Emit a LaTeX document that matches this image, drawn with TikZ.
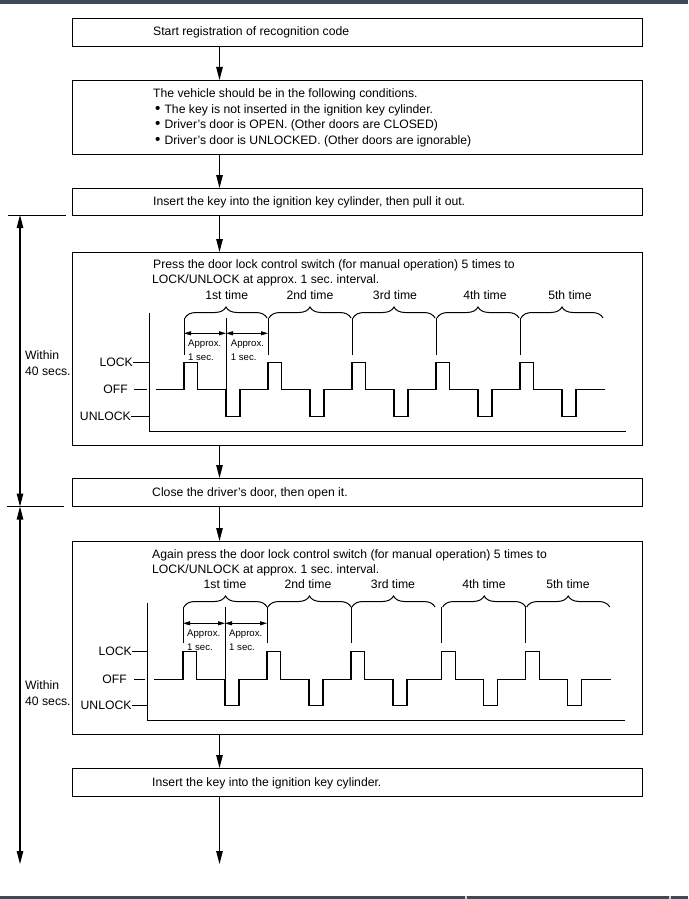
\documentclass[tikz,border=0pt]{standalone}
\usepackage{fontspec}
\setmainfont{Liberation Sans}
\usetikzlibrary{arrows.meta,decorations.pathreplacing,calc}
\definecolor{barcolor}{RGB}{61,72,88}
\definecolor{gapcolor}{RGB}{205,210,215}
\tikzstyle{stepbox}=[draw,line width=1.1pt,rectangle,inner sep=0pt,anchor=north west,minimum width=570pt]
\tikzstyle{steptext}=[anchor=base west,inner sep=0pt,font=\fontsize{12.2}{15}\selectfont]
\tikzstyle{timelabel}=[anchor=base,inner sep=0pt,font=\fontsize{12.2}{15}\selectfont]
\tikzstyle{level}=[anchor=east,inner sep=0pt,font=\fontsize{12.2}{16}\selectfont]
\tikzstyle{approx}=[anchor=north west,inner sep=0pt,align=left,font=\fontsize{9.6}{14}\selectfont]
\tikzstyle{flow} = [draw,line width=1.1pt,-{Triangle[length=13pt,width=6.5pt]}]
\tikzstyle{span} = [draw,line width=1.1pt,{Triangle[length=13pt,width=6.5pt]}-{Triangle[length=13pt,width=6.5pt]}]
\tikzstyle{dim} = [draw,line width=0.8pt,{Triangle[length=7pt,width=4pt]}-{Triangle[length=7pt,width=4pt]}]
\tikzstyle{wave} = [draw,line width=1.1pt]
\tikzstyle{axis} = [draw,line width=1pt]
\tikzstyle{period} = [draw,line width=1pt,decorate,decoration={brace,amplitude=11pt}]
\newcommand{\conddot}{\scalebox{1.25}{\textbullet}\hspace{4pt}}
\frenchspacing

\begin{document}
\begin{tikzpicture}[x=1pt,y=-1pt]
\useasboundingbox (0,0) rectangle (688,899);

    \fill[barcolor] (0,0) rectangle (688,4);
    \fill[barcolor] (0,896) rectangle (688,899);
    \fill[gapcolor] (465.3,896) rectangle (466.7,899);
    \fill[gapcolor] (669,896) rectangle (670.7,899);

    \foreach \pos/\h/\name in {{(72,18)/28pt/b1},{(72,80)/74pt/b2},{(72,188)/27pt/b3},{(72,252)/193pt/b4},{(72,478)/28pt/b5},{(72,541)/193pt/b6},{(72,768)/28pt/b7}}
        \node[stepbox,minimum height=\h] (\name) at \pos {};

    \node[steptext] (start) at (153,36) {Start registration of recognition code};
    \node[steptext] (cond) at (153,97.5) {The vehicle should be in the following conditions.};
    \node[steptext] (condA) at (155,113) {\conddot The key is not inserted in the ignition key cylinder.};
    \node[steptext] (condB) at (155,128.5) {\conddot Driver’s door is OPEN. (Other doors are CLOSED)};
    \node[steptext] (condC) at (155,144) {\conddot Driver’s door is UNLOCKED. (Other doors are ignorable)};
    \node[steptext] (pullout) at (153,205.5) {Insert the key into the ignition key cylinder, then pull it out.};
    \node[steptext] (pressA) at (153,268) {Press the door lock control switch (for manual operation) 5 times to};
    \node[steptext] (pressB) at (152,283.5) {LOCK/UNLOCK at approx. 1 sec. interval.};
    \node[steptext] (close) at (152,496.5) {Close the driver’s door, then open it.};
    \node[steptext] (againA) at (152,558) {Again press the door lock control switch (for manual operation) 5 times to};
    \node[steptext] (againB) at (152,573) {LOCK/UNLOCK at approx. 1 sec. interval.};
    \node[steptext] (insert) at (152,786.5) {Insert the key into the ignition key cylinder.};

    % Connect boxes with arrows
    \coordinate (flowx) at (219.5,0);
    \foreach \source/ \dest in {b1/b2, b2/b3, b3/b4, b4/b5, b5/b6, b6/b7}
        \path[flow] (\source.south -| flowx) -- (\dest.north -| flowx);
    \coordinate (flowend) at (219.5,864);
    \path[flow] (b7.south -| flowx) -- (flowend);

    % time limits on the left
    \coordinate (limA) at (20,215);
    \coordinate (limB) at (20,506.5);
    \coordinate (limC) at (20,864);
    \coordinate (edgeA) at (66,215);
    \coordinate (edgeB) at (64,506.5);
    \draw[line width=1pt] (8,215) -- (edgeA);
    \draw[line width=1pt] (7,506.5) -- (edgeB);
    \path[span] (limA) -- (limB);
    \path[span] (limB) -- (limC);
    \node[level,anchor=west,align=left] (withinA) at (25,363) {Within\\40 secs.};
    \node[level,anchor=west,align=left] (withinB) at (25,693) {Within\\40 secs.};

    % first timing chart
    \coordinate (axisA) at (149.3,313);
    \draw[axis] (axisA) |- (626,431);
    \node[level] (lockA) at (133,362.3) {LOCK};
    \node[level] (offA) at (128,389.3) {OFF};
    \node[level] (unlockA) at (131,416.7) {UNLOCK};
    \draw[axis] (lockA.east) -- (lockA.east -| axisA);
    \draw[axis] ([xshift=6pt]offA.east) -- ([xshift=-2pt]offA.east -| axisA);
    \draw[axis] (unlockA.east) -- (unlockA.east -| axisA);
    \draw[wave] (156,389.3) foreach \s in {184,268,352,436,520} { -- (\s,389.3) -- (\s,362.3) -- ({\s+13.5},362.3) -- ({\s+13.5},389.3) -- ({\s+42},389.3) -- ({\s+42},416.7) -- ({\s+56},416.7) -- ({\s+56},389.3) } -- (605,389.3);
    \foreach \s in {184,268,352,436,520}
        \draw[axis] (\s,318) -- (\s,355);
    \draw[axis] (226,318) -- (226,389.3);
    \foreach \s/\lx/\lab [count=\i] in {184/226.7/1st, 268/310/2nd, 352/395/3rd, 436/485/4th, 520/570/5th} {
        \draw[period] ({\s+1},318) -- ({\s+83},318);
        \node[timelabel] (timeA\i) at (\lx,299) {\lab\ time};
    }
    \path[dim] (184,333.3) -- (226,333.3);
    \path[dim] (226,333.3) -- (268,333.3);
    \node[approx] (approxA1) at (188,339.8) {Approx.\\1 sec.};
    \node[approx] (approxA2) at (230.7,339.8) {Approx.\\1 sec.};

    % second timing chart
    \coordinate (axisB) at (147.3,602.7);
    \draw[axis] (axisB) |- (625,720.7);
    \node[level] (lockB) at (132,651.7) {LOCK};
    \node[level] (offB) at (127,679.3) {OFF};
    \node[level] (unlockB) at (131.7,705.7) {UNLOCK};
    \draw[axis] (lockB.east) -- (lockB.east -| axisB);
    \draw[axis] ([xshift=7pt]offB.east) -- ([xshift=-2pt]offB.east -| axisB);
    \draw[axis] (unlockB.east) -- (unlockB.east -| axisB);
    \draw[wave] (154.3,679.3) foreach \s in {183,267,351,441.7,525.7} { -- (\s,679.3) -- (\s,651.7) -- ({\s+13.5},651.7) -- ({\s+13.5},679.3) -- ({\s+42},679.3) -- ({\s+42},705.7) -- ({\s+56},705.7) -- ({\s+56},679.3) } -- (610.7,679.3);
    \foreach \s in {183,267,351,441.7,525.7}
        \draw[axis] (\s,607) -- (\s,643);
    \draw[axis] (225,607) -- (225,679.3);
    \foreach \s/\lx/\lab [count=\i] in {183/225/1st, 267/308/2nd, 351/393/3rd, 441.7/484/4th, 525.7/568/5th} {
        \draw[period] ({\s+1},607) -- ({\s+84},607);
        \node[timelabel] (timeB\i) at (\lx,588) {\lab\ time};
    }
    \path[dim] (183,623.3) -- (225,623.3);
    \path[dim] (225,623.3) -- (267,623.3);
    \node[approx] (approxB1) at (187,629.2) {Approx.\\1 sec.};
    \node[approx] (approxB2) at (229,629.2) {Approx.\\1 sec.};

\end{tikzpicture}
\end{document}
